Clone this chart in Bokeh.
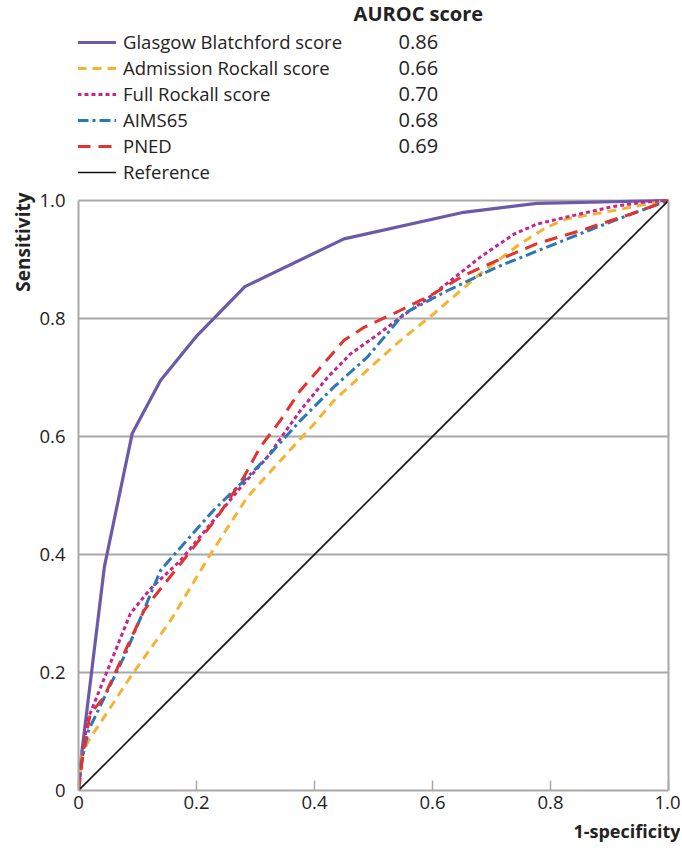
from bokeh.plotting import figure
from bokeh.models import Range1d, FixedTicker, Label, Legend, LegendItem, LinearAxis, Title
from bokeh.embed import file_html
from bokeh.resources import INLINE

# ---------------- data ----------------
series_names = ["Glasgow Blatchford score", "Admission Rockall score", "Full Rockall score", "AIMS65", "PNED", "Reference"]
auroc = [0.86, 0.66, 0.70, 0.68, 0.69]

gbs_x = [0, 0.005, 0.044, 0.091, 0.139, 0.201, 0.282, 0.45, 0.653, 0.777, 1.0]
gbs_y = [0, 0.06, 0.38, 0.605, 0.695, 0.771, 0.854, 0.935, 0.98, 0.995, 1.0]

ar_x = [0, 0.006, 0.02, 0.032, 0.091, 0.156, 0.224, 0.286, 0.342, 0.399, 0.433, 0.489, 0.546, 0.602, 0.681, 0.749, 0.794, 0.828, 0.907, 0.964, 1.0]
ar_y = [0, 0.062, 0.09, 0.107, 0.197, 0.288, 0.401, 0.497, 0.559, 0.621, 0.661, 0.712, 0.763, 0.808, 0.876, 0.927, 0.955, 0.969, 0.983, 0.994, 1.0]

fr_x = [0, 0.006, 0.015, 0.088, 0.122, 0.173, 0.229, 0.275, 0.32, 0.376, 0.422, 0.461, 0.506, 0.546, 0.6, 0.681, 0.738, 0.777, 0.823, 0.907, 0.964, 1.0]
fr_y = [0, 0.051, 0.119, 0.30, 0.342, 0.39, 0.458, 0.514, 0.565, 0.644, 0.70, 0.74, 0.772, 0.802, 0.84, 0.904, 0.943, 0.96, 0.971, 0.99, 0.998, 1.0]

aims_x = [0, 0.003, 0.017, 0.082, 0.139, 0.173, 0.229, 0.275, 0.32, 0.376, 0.433, 0.489, 0.523, 0.551, 0.625, 0.709, 0.794, 0.879, 0.953, 1.0]
aims_y = [0, 0.04, 0.102, 0.237, 0.373, 0.412, 0.475, 0.52, 0.565, 0.627, 0.684, 0.734, 0.774, 0.808, 0.847, 0.887, 0.921, 0.955, 0.983, 1.0]

pn_x = [0, 0.009, 0.02, 0.043, 0.111, 0.128, 0.195, 0.235, 0.28, 0.308, 0.342, 0.376, 0.41, 0.45, 0.484, 0.546, 0.602, 0.653, 0.709, 0.777, 0.851, 0.936, 1.0]
pn_y = [0, 0.073, 0.13, 0.158, 0.305, 0.328, 0.412, 0.463, 0.531, 0.582, 0.627, 0.678, 0.717, 0.763, 0.785, 0.814, 0.842, 0.873, 0.898, 0.927, 0.949, 0.977, 1.0]

ref_x = [0, 1.0]
ref_y = [0, 1.0]

tick_values = [0, 0.2, 0.4, 0.6, 0.8, 1.0]
tick_labels = ["0", "0.2", "0.4", "0.6", "0.8", "1.0"]

# ---------------- figure ----------------
FONT = "Open Sans"
GRAY = "#a8a8a8"
TXT = "#222222"
Y_TOP = 790 / 590  # room above the plot box for the legend block

p = figure(width=680, height=853, output_backend="svg", toolbar_location=None,
           x_range=Range1d(0, 1), y_range=Range1d(0, Y_TOP),
           min_border_left=78, min_border_right=12, min_border_top=0, min_border_bottom=63)
p.background_fill_color = "white"
p.border_fill_color = "white"
p.outline_line_color = None

p.xgrid.grid_line_color = None
p.ygrid.grid_line_color = GRAY
p.ygrid.grid_line_width = 1.8
p.ygrid.ticker = FixedTicker(ticks=tick_values[1:])

overrides = {v: s for v, s in zip(tick_values, tick_labels)}
for ax in (p.xaxis[0], p.yaxis[0]):
    ax.ticker = FixedTicker(ticks=tick_values)
    ax.major_label_overrides = overrides
    ax.axis_line_color = GRAY
    ax.axis_line_width = 2
    ax.minor_tick_line_color = None
    ax.major_label_text_font = FONT
    ax.major_label_text_font_size = "18.5px"
    ax.major_label_text_color = TXT

p.yaxis.bounds = (0, 1)
p.xaxis.major_tick_in = 10
p.xaxis.major_tick_out = 0
p.xaxis.major_tick_line_color = GRAY
p.xaxis.major_tick_line_width = 1.5
p.xaxis.major_label_standoff = 5
p.yaxis.major_tick_line_color = None
p.yaxis.major_label_standoff = 7

right_ax = LinearAxis(bounds=(0, 1), ticker=FixedTicker(ticks=[]), axis_line_color=GRAY,
                      axis_line_width=2, major_tick_line_color=None, minor_tick_line_color=None,
                      major_label_text_font_size="0px")
p.add_layout(right_ax, "right")

styles = [
    (gbs_x, gbs_y, "#6b5aa8", "solid", 3.2),
    (ar_x, ar_y, "#f5b335", "9 6", 3),
    (fr_x, fr_y, "#c3268f", "4 3", 3),
    (aims_x, aims_y, "#2a79b6", "11 4 3 4", 3),
    (pn_x, pn_y, "#e2332f", "13 8", 3),
    (ref_x, ref_y, "#111111", "solid", 1.6),
]

renderers = []
for xs, ys, col, dash, w in styles:
    r = p.line(xs, ys, line_color=col, line_width=w, line_dash=dash)
    renderers.append(r)

items = [LegendItem(label=n, renderers=[r]) for n, r in zip(series_names, renderers)]
legend = Legend(items=items, location=(-1, 606),
                label_text_font=FONT, label_text_font_size="18.5px", label_text_color=TXT,
                glyph_width=39, glyph_height=20, label_height=20, spacing=1,
                label_standoff=7, padding=0, margin=0,
                border_line_color=None, background_fill_alpha=0)
p.add_layout(legend, "center")

# AUROC column
p.add_layout(Label(x=0.576, y=1.317, text="AUROC score", text_font=FONT, text_font_size="20px",
                   text_font_style="bold", text_align="center", text_baseline="middle", text_color=TXT))
row_y = [1.268, 1.225, 1.181, 1.137, 1.093]
for v, yy in zip(auroc, row_y):
    p.add_layout(Label(x=0.576, y=yy, text=f"{v:.2f}", text_font=FONT, text_font_size="20px",
                       text_align="center", text_baseline="middle", text_color=TXT))

# axis titles
p.add_layout(Title(text="Sensitivity", align="right", offset=192, text_font=FONT,
                   text_font_size="19px", text_font_style="bold", text_color=TXT, standoff=2), "left")
p.add_layout(Title(text="1-specificity", align="right", offset=-12, text_font=FONT,
                   text_font_size="18px", text_font_style="bold", text_color=TXT, standoff=10), "below")

open("out.html", "w").write(file_html(p, INLINE))
